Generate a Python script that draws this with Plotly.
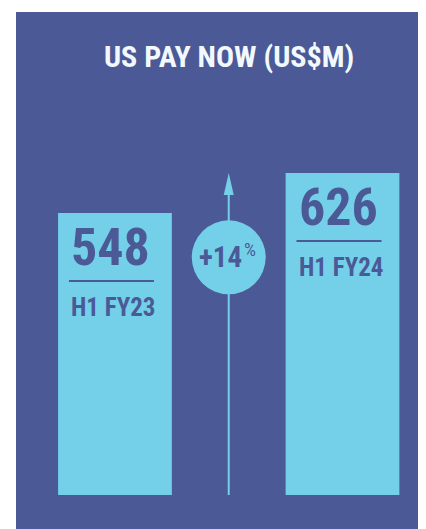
import plotly.graph_objects as go

# ---- data ----
periods = ["H1 FY23", "H1 FY24"]
values = [548, 626]
title_text = "US PAY NOW (US$M)"

growth_pct = round((values[1] / values[0] - 1) * 100)

# ---- styles ----
PANEL = "#4B5A96"
BAR = "#74D0E9"
DARK = "#4B5A96"
TITLE_C = "#F2F9FE"
FONT = "Roboto Condensed, Open Sans Condensed, DejaVu Sans Condensed, sans-serif"

fig = go.Figure()
fig.add_trace(go.Bar(
    x=[0, 1], y=values, width=0.5,
    marker=dict(color=BAR, line=dict(width=0)),
    hoverinfo="skip",
))

mid = 0.5
annotations = []
shapes = []

for i, (p, v) in enumerate(zip(periods, values)):
    annotations.append(dict(
        x=i - 0.25, y=v, xref="x", yref="y", xanchor="left", yanchor="middle",
        xshift=11, yshift=-34, showarrow=False, text=f"<b>{v}</b>",
        font=dict(family=FONT, size=52, color=DARK),
    ))
    shapes.append(dict(
        type="line", xref="x", yref="y", xsizemode="pixel", ysizemode="pixel",
        xanchor=i, yanchor=v, x0=-46, x1=39, y0=-68, y1=-68,
        line=dict(color=DARK, width=2),
    ))
    annotations.append(dict(
        x=i - 0.25, y=v, xref="x", yref="y", xanchor="left", yanchor="middle",
        xshift=11, yshift=-94, showarrow=False, text=f"<b>{p}</b>",
        font=dict(family=FONT, size=25, color=DARK),
    ))

# arrow line
shapes.append(dict(
    type="line", xref="x", yref="y", x0=mid, x1=mid, y0=0, y1=values[1] - 30,
    line=dict(color=BAR, width=2), layer="above",
))
# arrow head
shapes.append(dict(
    type="path", xref="x", yref="y", xsizemode="pixel", ysizemode="pixel",
    xanchor=mid, yanchor=values[1], path="M-5,-22 L5,-22 L0,0 Z",
    fillcolor=BAR, line=dict(width=0), layer="above",
))
# circle badge
circ_y = 462
shapes.append(dict(
    type="circle", xref="x", yref="y", xsizemode="pixel", ysizemode="pixel",
    xanchor=mid, yanchor=circ_y, x0=-37, x1=37, y0=-37, y1=37,
    fillcolor=BAR, line=dict(width=0), layer="above",
))
annotations.append(dict(
    x=mid, y=circ_y, xref="x", yref="y", xanchor="right", yanchor="middle",
    xshift=15, yshift=0, showarrow=False, text=f"<b>+{growth_pct}</b>",
    font=dict(family=FONT, size=29, color=DARK),
))
annotations.append(dict(
    x=mid, y=circ_y, xref="x", yref="y", xanchor="left", yanchor="middle",
    xshift=13, yshift=8, showarrow=False, text="%",
    font=dict(family=FONT, size=19, color=DARK),
))

# title
annotations.append(dict(
    x=mid, y=0.914, xref="x", yref="paper", xanchor="center", yanchor="middle",
    showarrow=False, text=f"<b>{title_text}</b>",
    font=dict(family=FONT, size=30, color=TITLE_C),
))

fig.update_layout(
    width=418, height=521,
    margin=dict(l=8, r=0, t=4, b=0),
    paper_bgcolor="white", plot_bgcolor=PANEL,
    showlegend=False,
    xaxis=dict(range=[-0.435, 1.367], visible=False, fixedrange=True),
    yaxis=dict(range=[-66.1, 939.0], visible=False, fixedrange=True),
    shapes=shapes, annotations=annotations,
)

fig.write_html("out.html", config={"displayModeBar": False})
